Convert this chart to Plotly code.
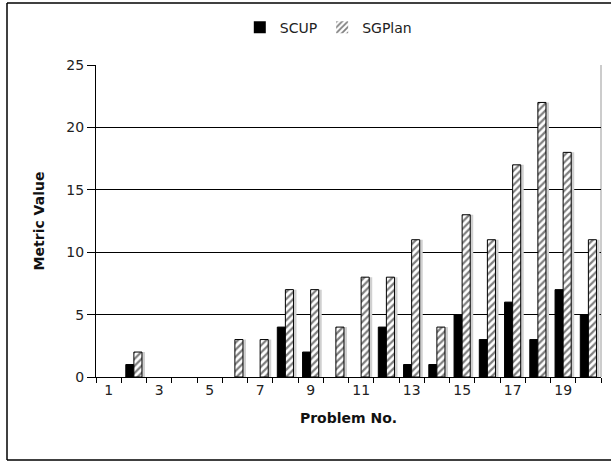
import plotly.graph_objects as go

problems = list(range(1, 21))
scup = [0, 1, 0, 0, 0, 0, 0, 4, 2, 0, 0, 4, 1, 1, 5, 3, 6, 3, 7, 5]
sgplan = [0, 2, 0, 0, 0, 3, 3, 7, 7, 4, 8, 8, 11, 4, 13, 11, 17, 22, 18, 11]
x_tick_vals = [1, 3, 5, 7, 9, 11, 13, 15, 17, 19]
y_tick_vals = [0, 5, 10, 15, 20, 25]

font = "DejaVu Sans, Verdana, sans-serif"
BW = 0.32
SH = 0.12  # shadow shift (in category units)

fig = go.Figure()
# soft drop shadows behind the bars
for vals, off in ((scup, -BW), (sgplan, 0.0)):
    fig.add_trace(go.Bar(
        x=problems, y=vals, width=BW, offset=off + SH,
        marker=dict(color="#d0d0d0", line=dict(width=0)),
        showlegend=False, hoverinfo="skip",
    ))
fig.add_trace(go.Bar(
    x=problems, y=scup, name="SCUP", width=BW, offset=-BW,
    marker=dict(color="black",
                line=dict(color="black", width=[0 if v == 0 else 1 for v in scup])),
))
fig.add_trace(go.Bar(
    x=problems, y=sgplan, name="SGPlan", width=BW, offset=0.0,
    marker=dict(color="white",
                line=dict(color="black", width=[0 if v == 0 else 1 for v in sgplan]),
                pattern=dict(shape="/", fgcolor="black", bgcolor="white",
                             size=5, solidity=0.45)),
))

fig.update_layout(
    width=611, height=462,
    margin=dict(l=96, r=10, t=65, b=85, autoexpand=False),
    paper_bgcolor="white", plot_bgcolor="white",
    barmode="overlay",
    font=dict(family=font, size=14, color="#222"),
    showlegend=True,
    legend=dict(orientation="h", x=0.46, xanchor="center", y=1.12, yanchor="middle",
                font=dict(size=14, color="#222"), itemwidth=30,
                traceorder="normal", bgcolor="rgba(0,0,0,0)"),
    xaxis=dict(
        range=[0.5, 20.5], tickmode="array", tickvals=x_tick_vals,
        ticktext=[str(v) for v in x_tick_vals],
        ticks="", showline=True, linecolor="black", linewidth=1,
        showgrid=False, zeroline=False, automargin=False,
        tickfont=dict(size=14, color="#222"),
        minor=dict(tick0=0.5, dtick=1, ticks="outside", ticklen=5,
                   tickcolor="black", tickwidth=1, showgrid=False),
        title=dict(text="<b>Problem No.</b>", font=dict(size=14, color="#111"), standoff=16),
    ),
    yaxis=dict(
        range=[0, 25], tickmode="array", tickvals=y_tick_vals,
        ticks="outside", ticklen=8, tickcolor="black",
        showline=True, linecolor="black", linewidth=1,
        showgrid=True, gridcolor="black", gridwidth=1, zeroline=False, automargin=False,
        tickfont=dict(size=14, color="#222"),
        title=dict(text="<b>Metric Value</b>", font=dict(size=14, color="#111"), standoff=18),
    ),
    shapes=[
        # outer frame: left, top, bottom edges (right edge lies outside the image)
        dict(type="line", xref="paper", yref="paper",
             x0=(7 - 96) / 505, x1=(7 - 96) / 505,
             y0=(377 - 460) / 312, y1=(377 - 3) / 312,
             line=dict(color="black", width=1.5), layer="below"),
        dict(type="line", xref="paper", yref="paper",
             x0=(7 - 96) / 505, x1=(620 - 96) / 505,
             y0=(377 - 3) / 312, y1=(377 - 3) / 312,
             line=dict(color="black", width=1.5), layer="below"),
        dict(type="line", xref="paper", yref="paper",
             x0=(7 - 96) / 505, x1=(620 - 96) / 505,
             y0=(377 - 460) / 312, y1=(377 - 460) / 312,
             line=dict(color="black", width=1.5), layer="below"),
        dict(type="line", xref="paper", yref="paper", x0=1, x1=1, y0=0, y1=1,
             line=dict(color="#999", width=1), layer="below"),
    ],
)

fig.write_html(
    "out.html",
    config={"displayModeBar": False},
    post_script="document.body.style.margin='0';document.body.style.overflow='hidden';",
)
